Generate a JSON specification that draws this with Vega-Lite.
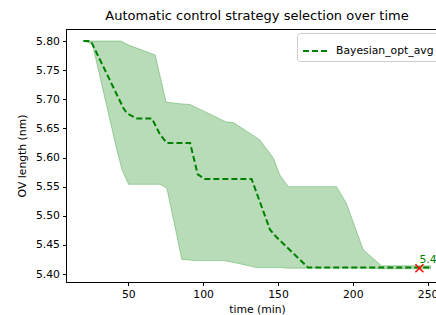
{
  "$schema": "https://vega.github.io/schema/vega-lite/v6.json",
  "autosize": {"type": "none"},
  "padding": {"left": 66, "top": 29, "right": -12, "bottom": 33},
  "width": 382,
  "height": 253,
  "title": {"text": "Automatic control strategy selection over time", "fontSize": 13, "font": "DejaVu Sans", "fontWeight": "normal", "color": "black", "offset": 6, "anchor": "middle"},
  "config": {
    "font": "DejaVu Sans",
    "view": {"stroke": "black", "strokeWidth": 1},
    "axis": {"grid": false, "domainColor": "black", "tickColor": "black", "labelColor": "black", "titleColor": "black", "labelFontSize": 10.8, "titleFontSize": 10.8, "titleFontWeight": "normal", "tickSize": 3.5, "labelPadding": 3, "domainWidth": 1, "tickWidth": 1, "labelOverlap": false, "labelBound": false, "labelFlush": false}
  },
  "datasets": {
    "band": [
      {"t": 20, "lower": 5.800, "upper": 5.800},
      {"t": 26, "lower": 5.795, "upper": 5.800},
      {"t": 42.4, "lower": 5.613, "upper": 5.800},
      {"t": 44.7, "lower": 5.590, "upper": 5.800},
      {"t": 45.8, "lower": 5.579, "upper": 5.799},
      {"t": 50.2, "lower": 5.554, "upper": 5.793},
      {"t": 68, "lower": 5.554, "upper": 5.776},
      {"t": 71.3, "lower": 5.554, "upper": 5.739},
      {"t": 75.3, "lower": 5.548, "upper": 5.695},
      {"t": 75.8, "lower": 5.547, "upper": 5.695},
      {"t": 85.8, "lower": 5.425, "upper": 5.692},
      {"t": 91.3, "lower": 5.424, "upper": 5.691},
      {"t": 93.6, "lower": 5.423, "upper": 5.688},
      {"t": 114.7, "lower": 5.423, "upper": 5.662},
      {"t": 115.8, "lower": 5.422, "upper": 5.661},
      {"t": 120.2, "lower": 5.420, "upper": 5.660},
      {"t": 135.8, "lower": 5.411, "upper": 5.634},
      {"t": 138, "lower": 5.411, "upper": 5.630},
      {"t": 146.9, "lower": 5.411, "upper": 5.599},
      {"t": 151.3, "lower": 5.411, "upper": 5.570},
      {"t": 156.9, "lower": 5.410, "upper": 5.550},
      {"t": 189.1, "lower": 5.410, "upper": 5.550},
      {"t": 195.8, "lower": 5.410, "upper": 5.521},
      {"t": 206.9, "lower": 5.410, "upper": 5.442},
      {"t": 219.1, "lower": 5.409, "upper": 5.414},
      {"t": 252, "lower": 5.409, "upper": 5.414}
    ],
    "mean": [
      {"t": 20, "v": 5.800},
      {"t": 25, "v": 5.800},
      {"t": 46.9, "v": 5.684},
      {"t": 49.1, "v": 5.676},
      {"t": 55.8, "v": 5.667},
      {"t": 65.8, "v": 5.667},
      {"t": 71.3, "v": 5.639},
      {"t": 75.8, "v": 5.625},
      {"t": 91.3, "v": 5.625},
      {"t": 96.4, "v": 5.571},
      {"t": 101.3, "v": 5.563},
      {"t": 132.4, "v": 5.563},
      {"t": 144.7, "v": 5.476},
      {"t": 149.1, "v": 5.463},
      {"t": 170.2, "v": 5.411},
      {"t": 252, "v": 5.411}
    ],
    "best": [
      {"t": 244.5, "v": 5.41, "label": "5.41"}
    ]
  },
  "layer": [
    {
      "data": {"name": "band"},
      "mark": {"type": "area", "color": "green", "fillOpacity": 0.28, "stroke": "green", "strokeOpacity": 0.3, "strokeWidth": 1},
      "encoding": {
        "x": {"field": "t", "type": "quantitative", "scale": {"domain": [8.4, 263.6], "nice": false, "zero": false}, "axis": {"values": [50, 100, 150, 200, 250], "tickCount": 12, "title": "time (min)", "titlePadding": 4}},
        "y": {"field": "lower", "type": "quantitative", "scale": {"domain": [5.3863, 5.8206], "nice": false, "zero": false}, "axis": {"values": [5.4, 5.45, 5.5, 5.55, 5.6, 5.65, 5.7, 5.75, 5.8], "tickCount": 20, "format": ".2f", "title": "OV length (nm)", "titlePadding": 8}},
        "y2": {"field": "upper"}
      }
    },
    {
      "data": {"name": "mean"},
      "mark": {"type": "line", "strokeDash": [6, 3], "strokeWidth": 2},
      "encoding": {
        "x": {"field": "t", "type": "quantitative"},
        "y": {"field": "v", "type": "quantitative"},
        "color": {"datum": "Bayesian_opt_avg", "scale": {"range": ["green"]}, "legend": {"title": null, "orient": "none", "legendX": 231, "legendY": 4, "fillColor": "white", "strokeColor": "#cccccc", "cornerRadius": 3, "padding": 5, "labelFontSize": 10.8, "labelColor": "black", "symbolType": "stroke", "symbolStrokeWidth": 2, "symbolDash": [6, 3], "symbolSize": 576, "labelOffset": 8}}
      }
    },
    {
      "data": {"name": "best"},
      "mark": {"type": "point", "shape": "M-1,-1L1,1M-1,1L1,-1", "filled": false, "stroke": "red", "strokeWidth": 1.5, "size": 64, "opacity": 1},
      "encoding": {
        "x": {"field": "t", "type": "quantitative"},
        "y": {"field": "v", "type": "quantitative"}
      }
    },
    {
      "data": {"name": "best"},
      "mark": {"type": "text", "align": "left", "baseline": "alphabetic", "dx": 0, "dy": -5, "color": "green", "fontSize": 10.8},
      "encoding": {
        "x": {"field": "t", "type": "quantitative"},
        "y": {"field": "v", "type": "quantitative"},
        "text": {"field": "label"}
      }
    }
  ]
}
